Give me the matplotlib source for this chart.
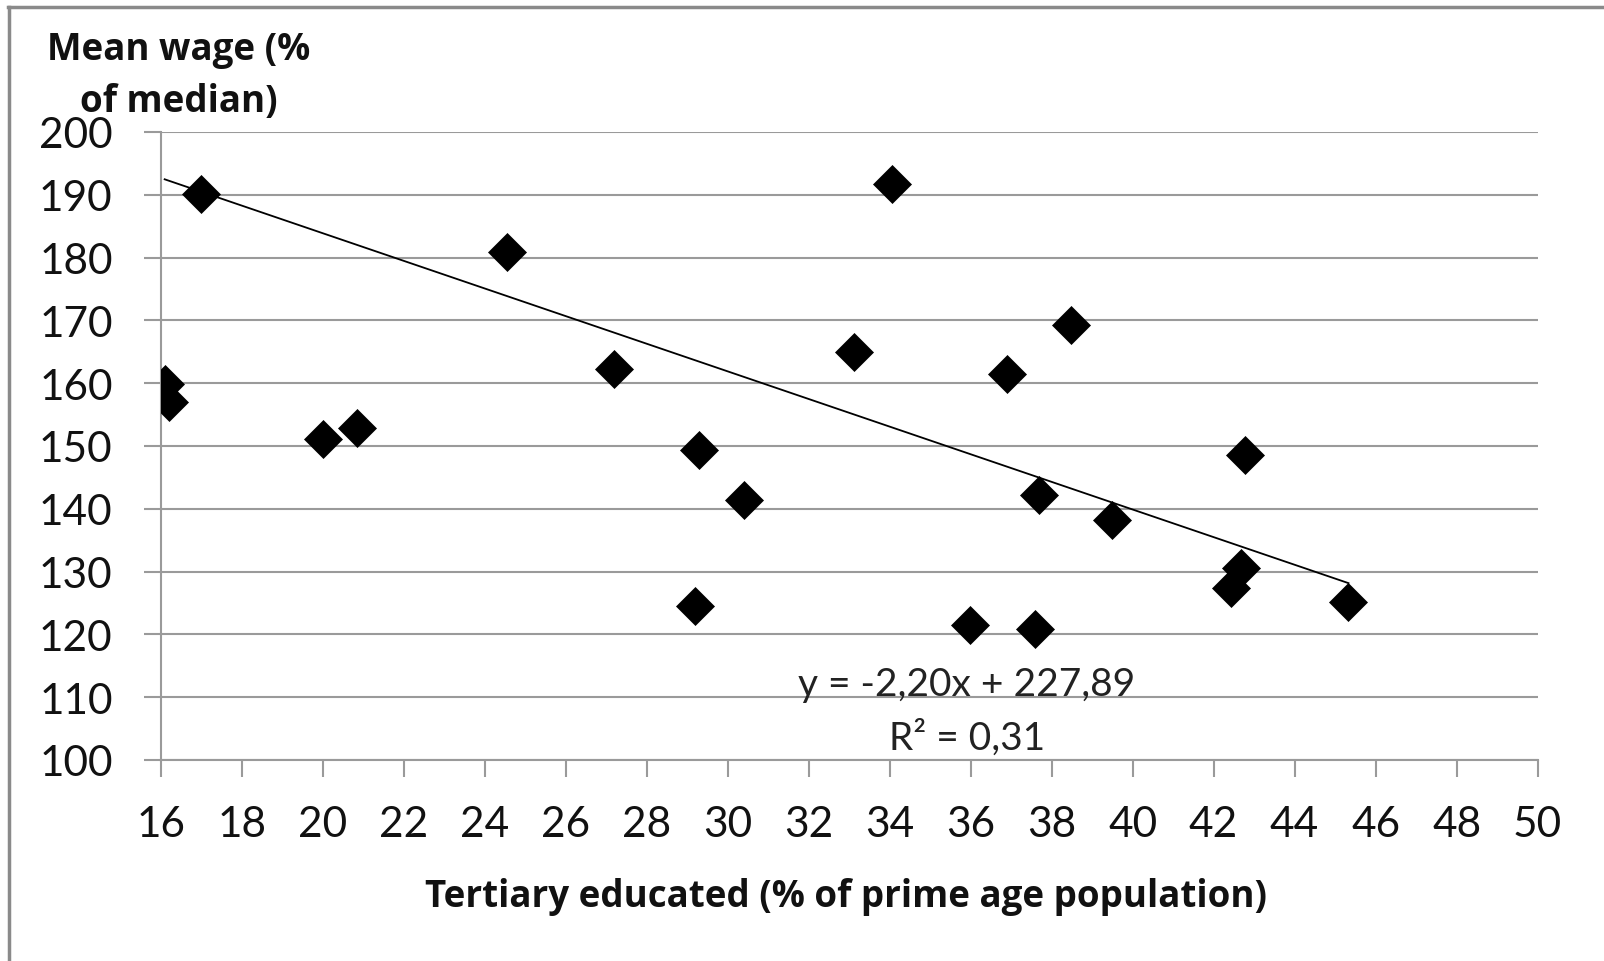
import numpy as np
import matplotlib
matplotlib.use("Agg")
import matplotlib.pyplot as plt
from matplotlib.lines import Line2D

# ---- data ----
tertiary = [17.0, 16.1, 16.2, 20.0, 20.85, 24.55, 27.2, 29.3, 29.2, 30.4, 33.12,
            34.07, 35.98, 36.91, 37.6, 37.7, 38.48, 39.49, 42.77, 42.67, 42.42, 45.33]
mean_wage = [190.1, 159.9, 157.0, 151.1, 152.8, 180.9, 162.2, 149.4, 124.6, 141.4, 164.9,
             191.7, 121.5, 161.5, 120.8, 142.2, 169.3, 138.2, 148.5, 130.5, 127.4, 125.1]
trend_slope = -2.20
trend_intercept = 227.89
r_squared = 0.31
x_ticks = list(range(16, 51, 2))
y_ticks = list(range(100, 201, 10))

GRAY = "#9a9a9a"
FONT = "Lato"
LABEL_FONT = "Open Sans"

fig = plt.figure(figsize=(16.04, 9.62), dpi=100)
W, H = 1604, 962
ax = fig.add_axes([160.6 / W, 1 - 761 / H, (1537.6 - 160.6) / W, (761 - 133) / H])

ax.set_xlim(16, 50)
ax.set_ylim(100, 200)
ax.set_xticks(x_ticks)
ax.set_yticks(y_ticks)
ax.set_xticklabels([str(v) for v in x_ticks], fontfamily=FONT, fontsize=30.5, color="#111111")
ax.set_yticklabels([str(v) for v in y_ticks], fontfamily=FONT, fontsize=30.5, color="#111111")

ax.grid(axis="y", color=GRAY, linewidth=1.5, zorder=0)
ax.set_axisbelow(True)
for s in ["top", "right"]:
    ax.spines[s].set_visible(False)
for s in ["left", "bottom"]:
    ax.spines[s].set_color(GRAY)
    ax.spines[s].set_linewidth(1.5)
ax.tick_params(axis="both", direction="out", length=12.5, width=1.5, color=GRAY)
ax.tick_params(axis="x", pad=20)
ax.tick_params(axis="y", pad=22)

# trend line
xs = np.array([min(tertiary), max(tertiary)])
ax.plot(xs, trend_slope * xs + trend_intercept, color="black", linewidth=1.3, zorder=2)

# points
ax.plot(tertiary, mean_wage, linestyle="none", marker="D", markersize=19,
        markerfacecolor="black", markeredgecolor="black", markeredgewidth=0.5, zorder=3)

# equation
eq = "y = " + f"{trend_slope:.2f}".replace(".", ",") + "x + " + f"{trend_intercept:.2f}".replace(".", ",")
ax.text(35.91, 112.1, eq, ha="center", va="center", fontfamily=FONT, fontsize=28, color="#222222")
ax.text(35.91, 103.7, "R² = " + f"{r_squared:.2f}".replace(".", ","),
        ha="center", va="center", fontfamily=FONT, fontsize=28, color="#222222")

# axis labels
fig.text(179 / W, 1 - 60 / H, "Mean wage (%", ha="center", va="baseline",
         fontfamily=LABEL_FONT, fontweight="bold", fontsize=26.5, color="#111111")
fig.text(179 / W, 1 - 112 / H, "of median)", ha="center", va="baseline",
         fontfamily=LABEL_FONT, fontweight="bold", fontsize=26.5, color="#111111")
fig.text(846.5 / W, 1 - 907 / H, "Tertiary educated (% of prime age population)",
         ha="center", va="baseline", fontfamily=LABEL_FONT, fontweight="bold", fontsize=26.5,
         color="#111111")

# outer border (top and left visible)
fig.add_artist(Line2D([8 / W, 1], [1 - 8 / H, 1 - 8 / H], transform=fig.transFigure,
                      color="#8a8a8a", linewidth=2.5))
fig.add_artist(Line2D([9 / W, 9 / W], [0, 1 - 8 / H], transform=fig.transFigure,
                      color="#8a8a8a", linewidth=2.5))

fig.savefig("out.png", dpi=100, facecolor="white")
